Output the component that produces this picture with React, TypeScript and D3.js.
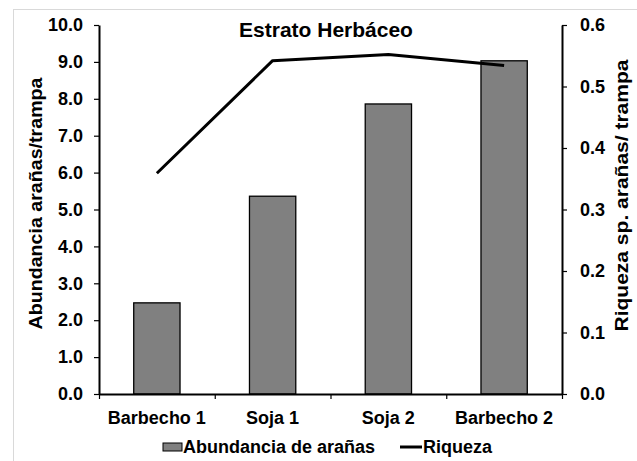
import { useRef, useEffect } from 'react'
import * as d3 from 'd3'

const categories = ['Barbecho 1', 'Soja 1', 'Soja 2', 'Barbecho 2']
const abundancia = [2.47, 5.36, 7.86, 9.03]
const riqueza = [0.359, 0.542, 0.552, 0.534]
const leftTicks = [0, 1, 2, 3, 4, 5, 6, 7, 8, 9, 10]
const rightTicks = [0, 0.1, 0.2, 0.3, 0.4, 0.5, 0.6]

const FONT = 'Liberation Sans, Arial, sans-serif'

export default function App() {
  const containerRef = useRef<HTMLDivElement>(null)

  useEffect(() => {
    if (!containerRef.current) return
    document.body.style.margin = '0'
    d3.select(containerRef.current).selectAll('*').remove()

    const W = 637
    const H = 461
    const margin = { top: 25, right: 75, bottom: 67, left: 99 }
    const width = W - margin.left - margin.right
    const height = H - margin.top - margin.bottom

    const root = d3
      .select(containerRef.current)
      .append('svg')
      .attr('width', W)
      .attr('height', H)
      .style('display', 'block')
      .style('background', '#fff')

    // outer chart border
    root
      .append('rect')
      .attr('x', 13.5)
      .attr('y', 9.5)
      .attr('width', W)
      .attr('height', H)
      .attr('fill', 'none')
      .attr('stroke', '#d9d9d9')
      .attr('stroke-width', 1)

    const svg = root.append('g').attr('transform', `translate(${margin.left},${margin.top})`)

    const x = d3.scaleBand().domain(categories).range([0, width]).paddingInner(0).paddingOuter(0)
    const xEdges = d3.scaleLinear().domain([0, categories.length]).range([0, width])
    const y = d3.scaleLinear().domain([0, 10]).range([height, 0])
    const y2 = d3.scaleLinear().domain([0, 0.6]).range([height, 0])

    const barW = x.bandwidth() * 0.4

    // Bars
    svg
      .selectAll('rect.bar')
      .data(abundancia)
      .join('rect')
      .attr('class', 'bar')
      .attr('x', (_, i) => (x(categories[i]) ?? 0) + (x.bandwidth() - barW) / 2)
      .attr('width', barW)
      .attr('y', (d) => y(d))
      .attr('height', (d) => height - y(d))
      .attr('fill', '#808080')
      .attr('stroke', '#000')
      .attr('stroke-width', 1.3)

    // Riqueza line
    const line = d3
      .line<number>()
      .x((_, i) => (x(categories[i]) ?? 0) + x.bandwidth() / 2)
      .y((d) => y2(d))

    svg
      .append('path')
      .datum(riqueza)
      .attr('fill', 'none')
      .attr('stroke', '#000')
      .attr('stroke-width', 3)
      .attr('stroke-linejoin', 'round')
      .attr('d', line)

    const styleAxis = (g: d3.Selection<SVGGElement, unknown, null, undefined>) => {
      g.select('.domain').attr('stroke', '#000').attr('stroke-width', 2)
      g.selectAll('.tick line').attr('stroke', '#000').attr('stroke-width', 1.2)
      g.selectAll('.tick text')
        .attr('font-family', FONT)
        .attr('font-weight', 'bold')
        .attr('font-size', '18px')
        .attr('fill', '#000')
    }

    // Left axis
    svg
      .append('g')
      .call(
        d3.axisLeft(y).tickValues(leftTicks).tickFormat(d3.format('.1f')).tickSize(5).tickSizeOuter(0).tickPadding(11)
      )
      .call(styleAxis)

    // Right axis
    svg
      .append('g')
      .attr('transform', `translate(${width},0)`)
      .call(
        d3.axisRight(y2).tickValues(rightTicks).tickFormat(d3.format('.1f')).tickSize(5).tickSizeOuter(0).tickPadding(13)
      )
      .call(styleAxis)

    // Bottom axis (ticks at category edges)
    svg
      .append('g')
      .attr('transform', `translate(0,${height})`)
      .call(d3.axisBottom(xEdges).tickValues(d3.range(categories.length + 1)).tickFormat(() => '').tickSize(5).tickSizeOuter(0))
      .call(styleAxis)

    // Category labels
    svg
      .selectAll('text.cat')
      .data(categories)
      .join('text')
      .attr('class', 'cat')
      .attr('x', (d) => (x(d) ?? 0) + x.bandwidth() / 2)
      .attr('y', height + 30)
      .attr('text-anchor', 'middle')
      .attr('font-family', FONT)
      .attr('font-weight', 'bold')
      .attr('font-size', '18px')
      .text((d) => d)

    // Title
    svg
      .append('text')
      .attr('x', 227)
      .attr('y', 12)
      .attr('text-anchor', 'middle')
      .attr('font-family', FONT)
      .attr('font-weight', 'bold')
      .attr('font-size', '21px')
      .text('Estrato Herbáceo')

    // Axis titles
    svg
      .append('text')
      .attr('transform', `translate(-57,${height / 2 - 6}) rotate(-90)`)
      .attr('text-anchor', 'middle')
      .attr('font-family', FONT)
      .attr('font-weight', 'bold')
      .attr('font-size', '18px')
      .attr('textLength', 252)
      .attr('lengthAdjust', 'spacingAndGlyphs')
      .text('Abundancia arañas/trampa')

    svg
      .append('text')
      .attr('transform', `translate(${width + 66},${height / 2 - 14}) rotate(-90)`)
      .attr('text-anchor', 'middle')
      .attr('font-family', FONT)
      .attr('font-weight', 'bold')
      .attr('font-size', '19px')
      .attr('textLength', 272)
      .attr('lengthAdjust', 'spacingAndGlyphs')
      .text('Riqueza sp. arañas/ trampa')

    // Legend
    const legend = root.append('g').attr('transform', 'translate(163,443)')
    legend
      .append('rect')
      .attr('x', 0)
      .attr('y', 0)
      .attr('width', 19)
      .attr('height', 8)
      .attr('fill', '#808080')
      .attr('stroke', '#000')
      .attr('stroke-width', 1)
    legend
      .append('text')
      .attr('x', 20)
      .attr('y', 10)
      .attr('font-family', FONT)
      .attr('font-weight', 'bold')
      .attr('font-size', '18px')
      .text('Abundancia de arañas')
    legend
      .append('line')
      .attr('x1', 237)
      .attr('x2', 259)
      .attr('y1', 4)
      .attr('y2', 4)
      .attr('stroke', '#000')
      .attr('stroke-width', 3)
    legend
      .append('text')
      .attr('x', 260)
      .attr('y', 10)
      .attr('font-family', FONT)
      .attr('font-weight', 'bold')
      .attr('font-size', '18px')
      .text('Riqueza')
  }, [])

  return <div ref={containerRef} style={{ width: 637, height: 461 }} />
}
